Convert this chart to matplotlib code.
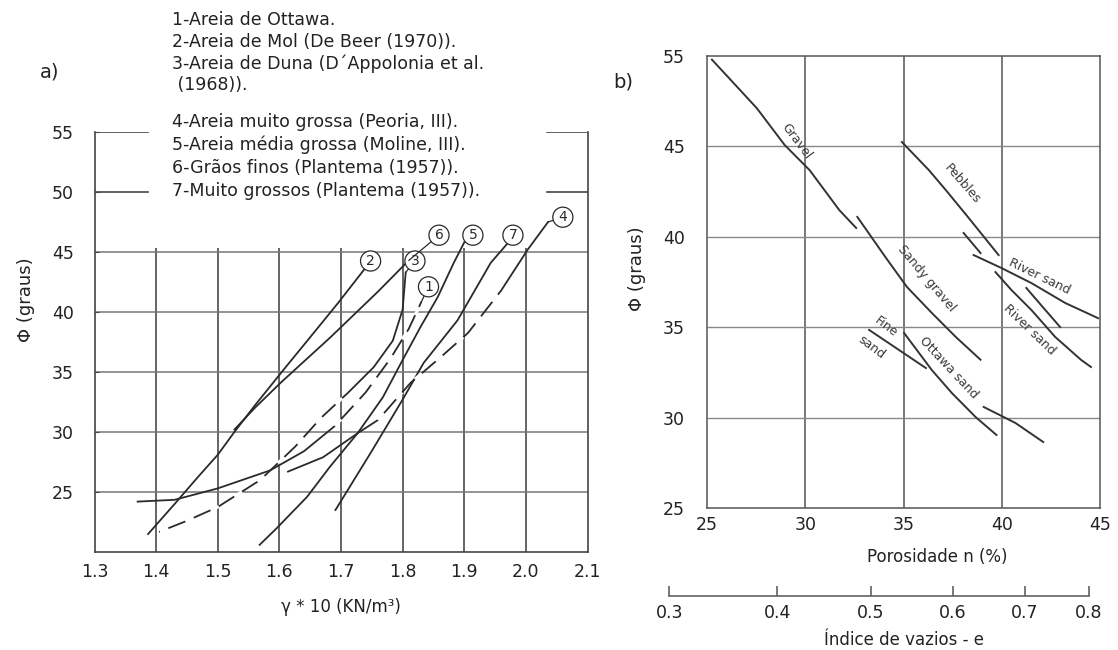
import numpy as np
import matplotlib
matplotlib.use('Agg')
from matplotlib import pyplot as plt

plt.rcParams['font.family'] = ['DejaVu Sans']

W, H = 1118, 650

# ---- a) peso especifico x angulo de atrito ----
gamma_ticks = [1.3, 1.4, 1.5, 1.6, 1.7, 1.8, 1.9, 2.0, 2.1]
phi_ticks_a = [25, 30, 35, 40, 45, 50, 55]

legend_lines = ['1-Areia de Ottawa.',
                '2-Areia de Mol (De Beer (1970)).',
                '3-Areia de Duna (D´Appolonia et al.',
                ' (1968)).',
                '4-Areia muito grossa (Peoria, III).',
                '5-Areia média grossa (Moline, III).',
                '6-Grãos finos (Plantema (1957)).',
                '7-Muito grossos (Plantema (1957)).']

# curvas (gamma*10, phi)
c1_g = [1.37, 1.43, 1.50, 1.585, 1.64, 1.69, 1.74, 1.78, 1.81, 1.83]
c1_phi = [24.2, 24.35, 25.3, 26.8, 28.4, 30.5, 33.3, 36.1, 38.6, 40.8]
c2_g = [1.387, 1.43, 1.467, 1.50, 1.527, 1.56, 1.607, 1.65, 1.696, 1.737]
c2_phi = [21.5, 24.0, 26.2, 28.1, 30.0, 32.2, 35.2, 37.9, 40.8, 43.5]
c3_g = [1.406, 1.45, 1.50, 1.569, 1.626, 1.668, 1.712, 1.753, 1.784, 1.80, 1.805]
c3_phi = [21.7, 22.6, 23.75, 26.0, 28.8, 31.2, 33.3, 35.4, 37.6, 40.2, 43.3]
c4_g = [1.614, 1.671, 1.727, 1.76, 1.813, 1.862, 1.906, 1.96, 2.003, 2.036]
c4_phi = [26.7, 27.9, 29.9, 31.0, 34.1, 36.25, 38.25, 41.8, 45.2, 47.5]
c5_g = [1.568, 1.596, 1.645, 1.682, 1.727, 1.768, 1.80, 1.829, 1.857, 1.883, 1.90]
c5_phi = [20.6, 22.0, 24.6, 27.1, 29.9, 32.9, 36.0, 38.75, 41.25, 44.1, 45.8]
c6_g = [1.527, 1.56, 1.602, 1.683, 1.76, 1.81]
c6_phi = [30.2, 32.0, 34.1, 37.9, 41.7, 44.3]
c7_g = [1.691, 1.748, 1.80, 1.834, 1.889, 1.943, 1.975]
c7_phi = [23.5, 28.25, 32.7, 35.75, 39.3, 44.1, 46.0]

curves_a = {'1': (c1_g, c1_phi), '2': (c2_g, c2_phi), '3': (c3_g, c3_phi),
            '4': (c4_g, c4_phi), '5': (c5_g, c5_phi), '6': (c6_g, c6_phi),
            '7': (c7_g, c7_phi)}
# index ranges drawn dashed
dashed_a = {'1': [(5, 9)], '3': [(0, 6)], '4': [(3, 7)]}
# where the circled numbers sit
circle_pos = {'1': (1.842, 42.1), '2': (1.748, 44.25), '3': (1.82, 44.25),
              '4': (2.06, 47.9), '5': (1.914, 46.4), '6': (1.859, 46.4),
              '7': (1.979, 46.4)}

# ---- b) porosidade x angulo de atrito ----
n_ticks = [25, 30, 35, 40, 45]
phi_ticks_b = [25, 30, 35, 40, 45, 50]
phi_labels_b = ['25', '30', '35', '40', '45', '55']
e_ticks = [0.3, 0.4, 0.5, 0.6, 0.7, 0.8]

gravel_n = [25.25, 27.53, 28.95, 30.22, 31.73, 32.59]
gravel_phi = [49.8, 47.12, 45.08, 43.69, 41.48, 40.49]
sandy_n = [32.65, 34.11, 35.18, 36.44, 37.66, 38.92]
sandy_phi = [41.10, 38.83, 37.22, 35.79, 34.46, 33.2]
pebbles_n = [34.92, 36.29, 37.15, 38.32, 39.84]
pebbles_phi = [45.24, 43.69, 42.59, 41.04, 38.99]
river1_n = [38.57, 39.99, 41.51, 43.23, 44.90]
river1_phi = [38.99, 38.27, 37.44, 36.34, 35.5]
river2_n = [38.06, 38.92, np.nan, 39.68, 40.49, 41.51, 42.72, 44.04, 44.54]
river2_phi = [40.21, 39.10, np.nan, 38.05, 37.06, 35.95, 34.46, 33.19, 32.80]
river3_n = [41.25, 42.1, 42.97]
river3_phi = [37.17, 36.1, 35.01]
fine_n = [33.25, 34.77, 36.14]
fine_phi = [34.85, 33.74, 32.74]
ottawa_n = [35.03, 36.44, 37.46, 38.67, 39.73]
ottawa_phi = [34.68, 32.63, 31.36, 30.03, 29.04]
ottawa2_n = [39.08, 40.70, 42.11]
ottawa2_phi = [30.59, 29.70, 28.65]

lines_b = [(gravel_n, gravel_phi), (sandy_n, sandy_phi), (pebbles_n, pebbles_phi),
           (river1_n, river1_phi), (river2_n, river2_phi), (river3_n, river3_phi),
           (fine_n, fine_phi), (ottawa_n, ottawa_phi), (ottawa2_n, ottawa2_phi)]

labels_b = [('Gravel', 29.53, 45.3, -53), ('Pebbles', 37.98, 42.92, -49),
            ('Sandy gravel', 36.15, 37.72, -50), ('River sand', 41.9, 37.83, -26),
            ('River sand', 41.39, 34.85, -44), ('Fine', 34.1, 35.0, -37),
            ('sand', 33.35, 33.9, -37), ('Ottawa sand', 37.32, 32.74, -47)]


def px_box(x0, y0, x1, y1):
    return [x0 / W, 1 - y1 / H, (x1 - x0) / W, (y1 - y0) / H]


fig = plt.figure(figsize=(W / 100, H / 100), dpi=100)
ink = '#2a2a2a'

# ================= a) =================
ax = fig.add_axes(px_box(94.5, 132, 587.5, 552))
ax.set_xlim(1.3, 2.1)
ax.set_ylim(20, 55)
ax.spines['top'].set_visible(False)
for s in ax.spines.values():
    s.set_color('#444')
    s.set_linewidth(1.2)
ax.vlines(gamma_ticks[1:-1], 20, 45.3, color='#3a3a3a', lw=1.1, zorder=1)
ax.hlines(phi_ticks_a[:5], 1.3, 2.1, color='#777', lw=1.1, zorder=1)
for yv in phi_ticks_a[5:]:
    ax.axhline(yv, 0, 0.108, color='#444', lw=1.2)
    ax.axhline(yv, 0.918, 1.0, color='#444', lw=1.2)
ax.set_xticks(gamma_ticks)
ax.set_xticklabels([f'{v:.1f}' for v in gamma_ticks], fontsize=12.5, color='#222')
ax.set_yticks(phi_ticks_a)
ax.set_yticklabels([str(v) for v in phi_ticks_a], fontsize=12.5, color='#222')
ax.tick_params(axis='x', length=0, pad=8)
ax.tick_params(axis='y', direction='in', length=3, pad=15, color='#444')
ax.set_xlabel('γ * 10 (KN/m³)', fontsize=12, color='#222', labelpad=12)
ax.set_ylabel('Φ (graus)', fontsize=13, color='#222')
ax.yaxis.set_label_coords(-0.12, 0.6)

for key, (g, p) in curves_a.items():
    g = np.array(g)
    p = np.array(p)
    ax.plot(g, p, color=ink, lw=1.3, zorder=3)
    for i0, i1 in dashed_a.get(key, []):
        # white gaps over the piece so it reads as dashed
        ax.plot(g[i0:i1 + 1], p[i0:i1 + 1], color='white', lw=2.2,
                dashes=(3, 6), zorder=4)
    cx, cy = circle_pos[key]
    ax.annotate(key, xy=(g[-1], p[-1]), xytext=(cx, cy), fontsize=10,
                ha='center', va='center', color=ink, zorder=6,
                bbox=dict(boxstyle='circle,pad=0.22', fc='white', ec=ink, lw=0.9),
                arrowprops=dict(arrowstyle='-', color=ink, lw=0.9,
                                shrinkA=0, shrinkB=0))

y_txt = [20, 42, 64, 85, 122, 145, 168, 191]
for t, yy in zip(legend_lines, y_txt):
    fig.text(172 / W, 1 - yy / H, t, fontsize=12.5, color='#222', va='center', ha='left')
fig.text(50 / W, 1 - 72 / H, 'a)', fontsize=14, color='#222', va='center', ha='center')

# ================= b) =================
bx = fig.add_axes(px_box(707, 56, 1100, 508))
bx.set_xlim(25, 45)
bx.set_ylim(25, 50)
for s in bx.spines.values():
    s.set_color('#555')
    s.set_linewidth(1.1)
bx.vlines(n_ticks[1:-1], 25, 50, color='#555', lw=1.1, zorder=1)
bx.hlines(phi_ticks_b[1:-1], 25, 45, color='#888', lw=1.0, zorder=1)
bx.set_xticks(n_ticks)
bx.set_xticklabels([str(v) for v in n_ticks], fontsize=12.5, color='#222')
bx.set_yticks(phi_ticks_b)
bx.set_yticklabels(phi_labels_b, fontsize=12.5, color='#222')
bx.tick_params(length=0)
bx.tick_params(axis='y', pad=16)
bx.tick_params(axis='x', pad=6)
bx.set_ylabel('Φ (graus)', fontsize=13, color='#222')
bx.yaxis.set_label_coords(-0.155, 0.53)
fig.text(937 / W, 1 - 557 / H, 'Porosidade n (%)', fontsize=12, color='#222',
         ha='center', va='center')

for n, p in lines_b:
    bx.plot(n, p, color='#333', lw=1.4, zorder=3)
for t, xx, yy, rot in labels_b:
    bx.text(xx, yy, t, fontsize=9, color='#3a3a3a', rotation=rot,
            ha='center', va='center', rotation_mode='anchor', zorder=5)

fig.text(623 / W, 1 - 82 / H, 'b)', fontsize=14, color='#222', va='center', ha='center')

# indice de vazios axis, same scale as the porosity axis
e_n = [100 * e / (1 + e) for e in e_ticks]
px_per_n = (1100 - 707) / (45 - 25)
ex0 = 707 + (e_n[0] - 25) * px_per_n
ex1 = 707 + (e_n[-1] - 25) * px_per_n
ex = fig.add_axes(px_box(ex0, 595, ex1, 596))
ex.set_xlim(e_n[0], e_n[-1])
ex.set_ylim(0, 1)
ex.patch.set_visible(False)
for k in ['top', 'left', 'right']:
    ex.spines[k].set_visible(False)
ex.spines['bottom'].set_color('#555')
ex.spines['bottom'].set_linewidth(1.1)
ex.set_yticks([])
ex.set_xticks(e_n)
ex.set_xticklabels([f'{e:.1f}' for e in e_ticks], fontsize=12.5, color='#222')
ex.tick_params(axis='x', direction='in', length=7, width=1.1, color='#555', pad=6)
fig.text(904 / W, 1 - 640 / H, 'Índice de vazios - e', fontsize=12, color='#222',
         ha='center', va='center')

fig.savefig('out.png', dpi=100)
